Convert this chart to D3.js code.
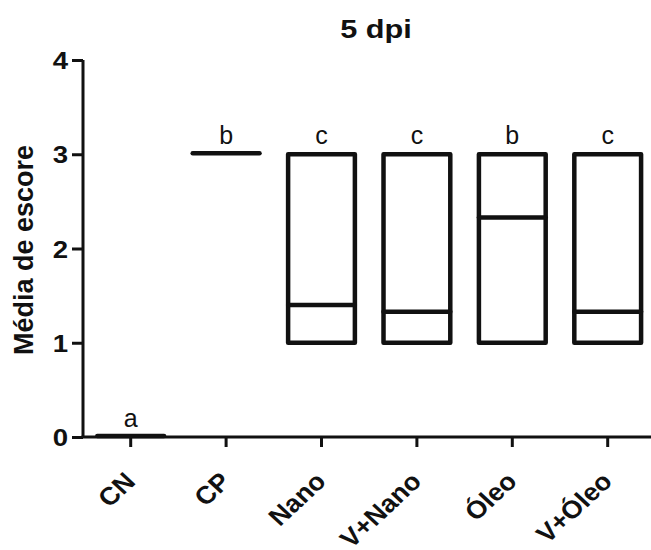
<!DOCTYPE html>
<html><head><meta charset="utf-8">
<script src="https://cdn.jsdelivr.net/npm/d3@7"></script>
<style>body{margin:0;background:#fff;} text{font-family:"Liberation Sans",Arial,sans-serif;}</style>
</head><body>
<svg id="c" width="651" height="550"></svg>
<script>
const categories = ["CN","CP","Nano","V+Nano","Óleo","V+Óleo"];
const minVals = [0,3,1,1,1,1];
const maxVals = [0,3,3,3,3,3];
const medianVals = [0,3,1.4,1.33,2.33,1.33];
const letters = ["a","b","c","c","b","c"];
const yTicks = [0,1,2,3,4];

const svg = d3.select("#c");
const x0 = 83, y0 = 437, y4 = 60;
const step = 95.4;
const x = d3.scaleBand().domain(categories).range([x0, x0 + step*categories.length]).paddingInner(0.3).paddingOuter(0.15);
const y = d3.scaleLinear().domain([0,4]).range([y0,y4]);
const cx = c => x(c) + x.bandwidth()/2;

// title
svg.append("text").attr("transform","translate(376,38) scale(1.18,1)").attr("text-anchor","middle")
  .attr("font-size",26).attr("font-weight","bold").attr("fill","#111").text("5 dpi");

// y axis title
svg.append("text").attr("transform","translate(33,250) rotate(-90)").attr("text-anchor","middle")
  .attr("font-size",27).attr("font-weight","bold").attr("fill","#111").text("Média de escore");

// y axis
const ya = svg.append("g").attr("transform",`translate(${x0},0)`)
  .call(d3.axisLeft(y).tickValues(yTicks).tickFormat(d3.format("d")).tickSize(11).tickPadding(2));
ya.select(".domain").attr("stroke","#111").attr("stroke-width",3).attr("d",`M0,${y4}V${y0}`);
ya.selectAll(".tick line").attr("stroke","#111").attr("stroke-width",3);
ya.selectAll(".tick text").attr("font-size",24).attr("font-weight","bold").attr("fill","#111")
  .attr("transform","scale(1.15,1)")
  .style("font-family","Liberation Sans, Arial, sans-serif").attr("dy","0.36em");

// x axis
const xa = svg.append("g").attr("transform",`translate(0,${y0})`)
  .call(d3.axisBottom(x).tickSize(10).tickFormat(""));
xa.select(".domain").attr("stroke","#111").attr("stroke-width",3).attr("d",`M${x0-1.5},0H651`);
xa.selectAll(".tick line").attr("stroke","#111").attr("stroke-width",3);

// x labels
svg.selectAll(".xl").data(categories).enter().append("text")
  .attr("transform", d => `translate(${cx(d)+6},${y0+46}) scale(1.08,1) rotate(-45)`)
  .attr("text-anchor","end")
  .attr("font-size",25).attr("font-weight","bold").attr("fill","#111").text(d=>d);

// boxes
const data = categories.map((c,i)=>({c, lo:minVals[i], hi:maxVals[i], med:medianVals[i], l:letters[i]}));
const g = svg.append("g");
data.forEach(d => {
  const bx = x(d.c), bw = x.bandwidth();
  if (d.hi > d.lo) {
    g.append("rect").attr("x",bx).attr("y",y(d.hi)).attr("width",bw).attr("height",y(d.lo)-y(d.hi))
      .attr("fill","none").attr("stroke","#111").attr("stroke-width",4.5).attr("stroke-linejoin","round");
  }
  g.append("line").attr("x1",bx).attr("x2",bx+bw).attr("y1",y(d.med)-(d.hi>d.lo?0:1)).attr("y2",y(d.med)-(d.hi>d.lo?0:1))
    .attr("stroke","#111").attr("stroke-width",4.5).attr("stroke-linecap","round");
  g.append("text").attr("x",cx(d.c)).attr("y",y(d.hi)-10).attr("text-anchor","middle")
    .attr("font-size",25).attr("fill","#111").text(d.l);
});
</script>
</body></html>
